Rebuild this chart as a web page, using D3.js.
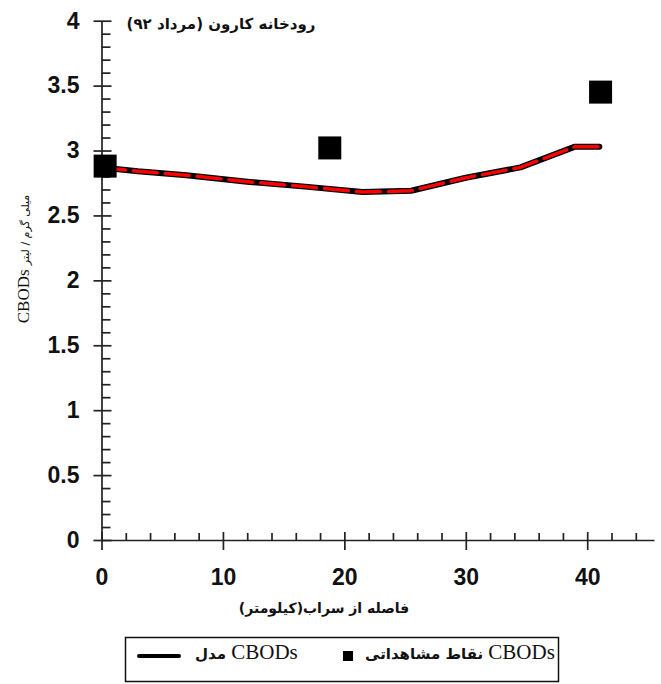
<!DOCTYPE html>
<html>
<head>
<meta charset="utf-8">
<script src="https://cdn.jsdelivr.net/npm/d3@7/dist/d3.min.js"></script>
<style>
  body { margin: 0; background: #fff; }
  svg { display: block; }
  .tick text { font-family: "Liberation Sans", Arial, sans-serif; font-weight: bold; font-size: 23px; fill: #111; }
  .fa { font-family: "DejaVu Sans", sans-serif; font-weight: bold; fill: #111; }
  .lat { font-family: "Liberation Serif", "DejaVu Serif", serif; fill: #111; }
</style>
</head>
<body>
<svg id="chart" width="661" height="684"></svg>
<script>
// observed CBODs points (distance km, mg/l)
const obsX = [0.3, 18.8, 41.1];
const obsY = [2.88, 3.02, 3.45];

// model CBODs line
const modelX = [0, 3, 7, 12, 17, 21.5, 25.5, 30, 34.5, 39, 41];
const modelY = [2.87, 2.84, 2.81, 2.76, 2.72, 2.68, 2.69, 2.79, 2.87, 3.03, 3.03];

const xTicks = [0, 10, 20, 30, 40];
const xMinor = [2, 4, 6, 8, 12, 14, 16, 18, 22, 24, 26, 28, 32, 34, 36, 38, 42, 44];
const yTicks = [0, 0.5, 1, 1.5, 2, 2.5, 3, 3.5, 4];
const yMinor = d3.range(0, 40).map(d => d / 10).filter(d => Math.round(d * 10) % 5 !== 0);

const svg = d3.select("#chart");

const x = d3.scaleLinear().domain([0, 45.5]).range([101.5, 654]);
const y = d3.scaleLinear().domain([0, 4]).range([540, 20.7]);

// y axis
const yAxis = svg.append("g")
  .attr("transform", `translate(${x(0)},0)`)
  .call(d3.axisLeft(y).tickValues(yTicks).tickSize(8).tickSizeOuter(0).tickPadding(14)
    .tickFormat(d => d));
yAxis.selectAll(".tick line").attr("x1", 10);

svg.append("g")
  .attr("transform", `translate(${x(0)},0)`)
  .call(d3.axisRight(y).tickValues(yMinor).tickSize(9).tickFormat(""))
  .call(g => g.select(".domain").remove());

// x axis
const xAxis = svg.append("g")
  .attr("transform", `translate(0,${y(0)})`)
  .call(d3.axisBottom(x).tickValues(xTicks).tickSize(10).tickSizeOuter(0).tickPadding(19));
xAxis.selectAll(".tick line").attr("y1", -8);

svg.append("g")
  .attr("transform", `translate(0,${y(0)})`)
  .call(d3.axisTop(x).tickValues(xMinor).tickSize(7).tickFormat(""))
  .call(g => g.select(".domain").remove());

svg.selectAll(".domain, .tick line").attr("stroke", "#222").attr("stroke-width", 1.7);

// model line: black under, red dashes on top
const model = modelX.map((d, i) => [d, modelY[i]]);
const line = d3.line().x(d => x(d[0])).y(d => y(d[1]));

svg.append("path")
  .datum(model)
  .attr("d", line)
  .attr("fill", "none")
  .attr("stroke", "#000")
  .attr("stroke-width", 6)
  .attr("stroke-linecap", "round")
  .attr("stroke-linejoin", "round");

svg.append("path")
  .datum(model)
  .attr("d", line)
  .attr("fill", "none")
  .attr("stroke", "#f00")
  .attr("stroke-width", 3.5)
  .attr("stroke-dasharray", "24,8")
  .attr("stroke-linecap", "round")
  .attr("stroke-linejoin", "round");

// observed squares
const sq = 23;
svg.append("g")
  .selectAll("rect")
  .data(obsX.map((d, i) => [d, obsY[i]]))
  .join("rect")
  .attr("x", d => x(d[0]) - sq / 2)
  .attr("y", d => y(d[1]) - sq / 2)
  .attr("width", sq)
  .attr("height", sq)
  .attr("fill", "#000");

// title
svg.append("text")
  .attr("class", "fa")
  .attr("x", 221)
  .attr("y", 29)
  .attr("direction", "rtl")
  .attr("text-anchor", "middle")
  .style("font-size", "15px")
  .text("رودخانه کارون (مرداد ۹۲)");

// y title
const yTitle = svg.append("text")
  .attr("class", "lat")
  .attr("transform", "translate(29,259) rotate(-90)")
  .attr("text-anchor", "middle")
  .style("font-size", "17px");
yTitle.append("tspan").text("CBODs ");
yTitle.append("tspan").attr("class", "fa").style("font-size", "11px").style("font-weight", "normal")
  .text("میلی گرم / لیتر");

// x title
svg.append("text")
  .attr("class", "fa")
  .attr("x", 324)
  .attr("y", 613)
  .attr("direction", "rtl")
  .attr("text-anchor", "middle")
  .style("font-size", "14px")
  .text("فاصله از سراب(کیلومتر)");

// legend
const legend = svg.append("g");
legend.append("rect")
  .attr("x", 125.5).attr("y", 637.5)
  .attr("width", 433).attr("height", 44)
  .attr("fill", "#fff").attr("stroke", "#111").attr("stroke-width", 1.5);

legend.append("line")
  .attr("x1", 139).attr("x2", 179)
  .attr("y1", 656).attr("y2", 656)
  .attr("stroke", "#000").attr("stroke-width", 4).attr("stroke-linecap", "round");

const leg1 = legend.append("text")
  .attr("class", "lat")
  .attr("x", 195).attr("y", 659)
  .style("font-size", "21px");
leg1.append("tspan").attr("class", "fa").style("font-size", "15px").text("مدل ");
leg1.append("tspan").text("CBODs");

legend.append("rect")
  .attr("x", 343).attr("y", 651)
  .attr("width", 10).attr("height", 10)
  .attr("fill", "#000");

const leg2 = legend.append("text")
  .attr("class", "lat")
  .attr("x", 365).attr("y", 659)
  .style("font-size", "21px");
leg2.append("tspan").attr("class", "fa").style("font-size", "15px").text("نقاط مشاهداتی ");
leg2.append("tspan").text("CBODs");
</script>
</body>
</html>
